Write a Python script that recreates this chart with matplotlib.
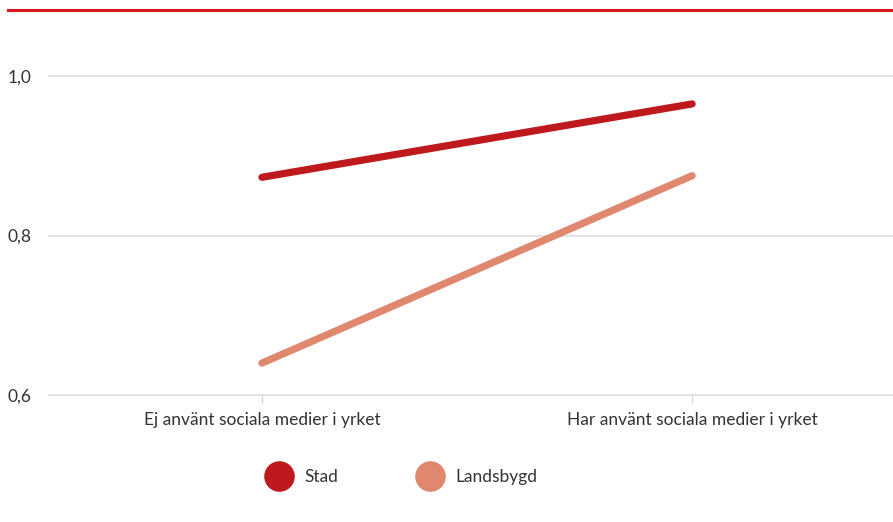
import matplotlib.pyplot as plt
from matplotlib.lines import Line2D

plt.rcParams['font.family'] = ['Lato', 'DejaVu Sans']

categories = ["Ej använt sociala medier i yrket", "Har använt sociala medier i yrket"]
stad = [0.873, 0.965]
landsbygd = [0.640, 0.875]
series_names = ["Stad", "Landsbygd"]
yticks = [0.6, 0.8, 1.0]
ytick_labels = ["0,6", "0,8", "1,0"]

colors = ["#be1a1d", "#df876f"]

fig = plt.figure(figsize=(8.93, 5.22), dpi=100)
ax = fig.add_axes([49 / 893, 1 - 395 / 522, 1 - 49 / 893, (395 - 76) / 522])

x = range(len(categories))
for vals, c in zip([stad, landsbygd], colors):
    ax.plot(x, vals, color=c, lw=5.2, solid_capstyle='round', clip_on=False, zorder=3)

ax.set_xlim(-0.495, 1.467)
ax.set_ylim(0.6, 1.0)
ax.set_yticks(yticks)
ax.set_yticklabels(ytick_labels)
ax.set_xticks(list(x))
ax.set_xticklabels(categories)

ax.grid(axis='y', color='#dedede', lw=1.2)
for gl in ax.get_ygridlines():
    gl.set_clip_on(False)
ax.set_axisbelow(True)
for s in ax.spines.values():
    s.set_visible(False)

ax.tick_params(axis='y', length=0, pad=0, labelsize=12.5, labelcolor='#333333')
for lab in ax.get_yticklabels():
    lab.set_horizontalalignment('left')
    lab.set_x(-41 / 844)
ax.tick_params(axis='x', length=6, color='#d8d8d8', width=1, pad=6,
               labelsize=12.5, labelcolor='#333333')

# red rule at the top
fig.add_artist(Line2D([8 / 893, 1.0], [1 - 10 / 522, 1 - 10 / 522],
                      color='#d7171f', lw=2.2))

handles = [Line2D([], [], ls='none', marker='o', markersize=21, color=c) for c in colors]
fig.legend(handles, series_names, loc='center', bbox_to_anchor=(401 / 893, 1 - 477 / 522),
           ncol=2, frameon=False, handletextpad=0.6, columnspacing=4.5,
           prop={'size': 12.5}, labelcolor='#333333', handlelength=1.65)

fig.savefig("out.png", dpi=100)
